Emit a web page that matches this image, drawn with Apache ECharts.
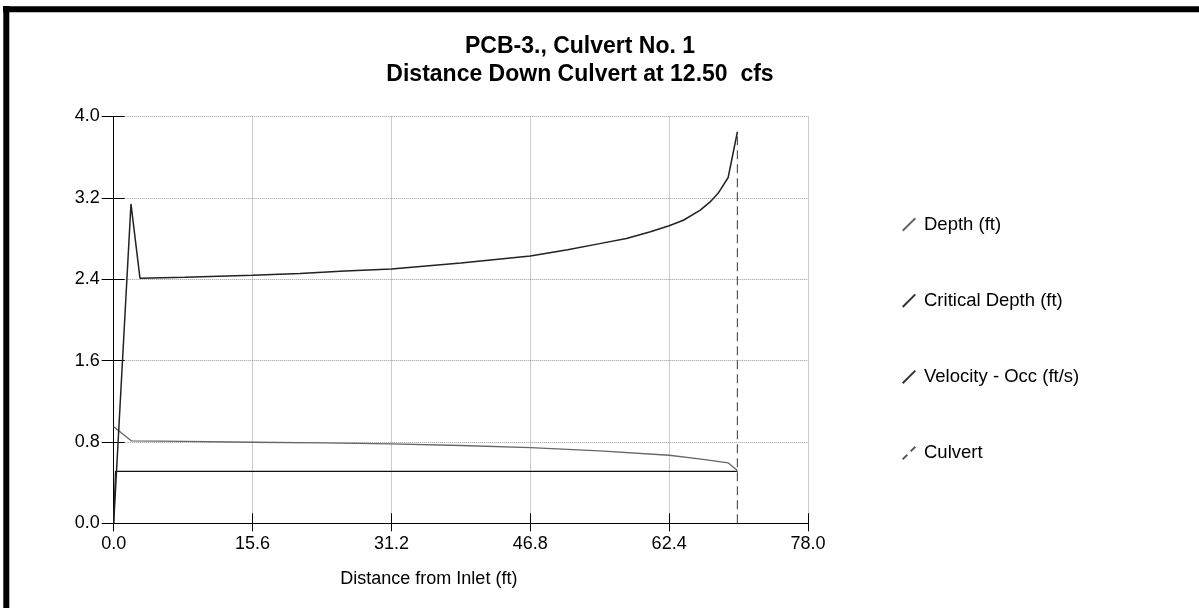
<!DOCTYPE html>
<html>
<head>
<meta charset="utf-8">
<title>PCB-3., Culvert No. 1</title>
<script src="https://cdn.jsdelivr.net/npm/echarts@6/dist/echarts.min.js"></script>
<style>
  html, body { margin: 0; padding: 0; background: #fff; }
  #chart { width: 1199px; height: 608px; }
</style>
</head>
<body>
<div id="chart"></div>
<script>
// axis ticks
const xTicks = [0, 15.6, 31.2, 46.8, 62.4, 78.0];
const yTicks = [0, 0.8, 1.6, 2.4, 3.2, 4.0];

// Depth (ft)
const depthX = [0, 2.0, 8, 15.6, 23.4, 31.2, 39, 46.8, 54.6, 62.4, 66, 69.05, 70.07];
const depthY = [0.95, 0.81, 0.805, 0.797, 0.79, 0.78, 0.765, 0.745, 0.712, 0.669, 0.63, 0.594, 0.52];

// Critical Depth (ft)
const criticalX = [0, 0.2, 70.07];
const criticalY = [0, 0.51, 0.51];

// Velocity - Occ (ft/s)
const velocityX = [0, 1.94, 2.95, 8, 15.6, 20.9, 26, 31.2, 39, 46.8, 51, 54.6, 57.6, 60.3, 62.4, 64.0, 65.9, 67.0, 67.9, 69.03, 70.07];
const velocityY = [0, 3.14, 2.41, 2.42, 2.44, 2.457, 2.48, 2.50, 2.56, 2.628, 2.69, 2.75, 2.80, 2.867, 2.926, 2.98, 3.08, 3.16, 3.245, 3.40, 3.85];

// Culvert
const culvertX = [70.07, 70.07];
const culvertY = [0, 3.85];

const pair = (xs, ys) => xs.map((x, i) => [x, ys[i]]);

const chart = echarts.init(document.getElementById('chart'));
const font = 'Liberation Sans, Arial, sans-serif';
const slash = 'path://M0,10 L9,1 L10,2 L1,11 Z';
const dashSlash = 'path://M0,10 L3.5,6.5 L4.5,7.5 L1,11 Z M6,4 L9.5,0.5 L10.5,1.5 L7,5 Z';

const option = {
  animation: false,
  textStyle: { fontFamily: font },
  graphic: [
    { type: 'line', shape: { x1: 3, y1: 9.3, x2: 1199, y2: 9.3 }, style: { stroke: '#000', lineWidth: 6 } },
    { type: 'line', shape: { x1: 6.3, y1: 6, x2: 6.3, y2: 608 }, style: { stroke: '#000', lineWidth: 6 } },
    { type: 'text', x: 580, y: 47, style: { text: 'PCB-3., Culvert No. 1', fontFamily: font, fontSize: 23, fontWeight: 'bold', fill: '#000', align: 'center', verticalAlign: 'middle' } },
    { type: 'text', x: 580, y: 74.5, style: { text: 'Distance Down Culvert at 12.50  cfs', fontFamily: font, fontSize: 23, fontWeight: 'bold', fill: '#000', align: 'center', verticalAlign: 'middle' } }
  ],
  legend: {
    orient: 'vertical',
    left: 897,
    top: 209.5,
    itemGap: 56.2,
    itemWidth: 14,
    itemHeight: 14,
    lineStyle: { opacity: 0 },
    textStyle: { fontFamily: font, fontSize: 18.5, lineHeight: 20, color: '#000', padding: [0, 0, 0, 3] },
    data: [
      { name: 'Depth (ft)', icon: slash },
      { name: 'Critical Depth (ft)', icon: slash },
      { name: 'Velocity - Occ (ft/s)', icon: slash },
      { name: 'Culvert', icon: dashSlash }
    ]
  },
  grid: { left: 113.7, right: 391, top: 116.5, bottom: 84.7 },
  xAxis: [{
    type: 'value',
    min: xTicks[0],
    max: xTicks[xTicks.length - 1],
    interval: xTicks[1] - xTicks[0],
    name: 'Distance from Inlet (ft)',
    nameLocation: 'middle',
    nameGap: 47,
    nameTextStyle: { fontFamily: font, fontSize: 18, color: '#000', padding: [0, 64, 0, 0] },
    axisLine: { onZero: false, lineStyle: { color: '#000', width: 1 } },
    axisTick: { length: 8, lineStyle: { color: '#000' } },
    axisLabel: { margin: 12, fontSize: 18, color: '#000', formatter: v => v.toFixed(1) },
    splitLine: { show: true, lineStyle: { color: '#9a9a9a', type: 'dotted', width: 1 } }
  }, {
    type: 'value',
    position: 'bottom',
    min: xTicks[0],
    max: xTicks[xTicks.length - 1],
    interval: xTicks[1] - xTicks[0],
    axisLine: { show: false },
    axisTick: { inside: true, length: 10, lineStyle: { color: '#000' } },
    axisLabel: { show: false },
    splitLine: { show: false }
  }],
  yAxis: [{
    type: 'value',
    min: yTicks[0],
    max: yTicks[yTicks.length - 1],
    interval: yTicks[1] - yTicks[0],
    axisLine: { show: true, onZero: false, lineStyle: { color: '#000', width: 1 } },
    axisTick: { show: true, length: 12, lineStyle: { color: '#000' } },
    axisLabel: { margin: 14, fontSize: 18, color: '#000', formatter: v => v.toFixed(1) },
    splitLine: { show: true, lineStyle: { color: '#9a9a9a', type: 'dotted', width: 1 } }
  }, {
    type: 'value',
    position: 'left',
    min: yTicks[0],
    max: yTicks[yTicks.length - 1],
    interval: yTicks[1] - yTicks[0],
    axisLine: { show: false },
    axisTick: { show: true, inside: true, length: 11, lineStyle: { color: '#000' } },
    axisLabel: { show: false },
    splitLine: { show: false }
  }],
  series: [
    {
      name: 'Depth (ft)', type: 'line', symbol: 'none',
      data: pair(depthX, depthY),
      itemStyle: { color: '#666' },
      lineStyle: { color: '#666', width: 1.3 }
    },
    {
      name: 'Critical Depth (ft)', type: 'line', symbol: 'none',
      data: pair(criticalX, criticalY),
      itemStyle: { color: '#333' },
      lineStyle: { color: '#111', width: 1.2 }
    },
    {
      name: 'Velocity - Occ (ft/s)', type: 'line', symbol: 'none',
      data: pair(velocityX, velocityY),
      itemStyle: { color: '#333' },
      lineStyle: { color: '#222', width: 1.5 }
    },
    {
      name: 'Culvert', type: 'line', symbol: 'none',
      data: pair(culvertX, culvertY),
      itemStyle: { color: '#555' },
      lineStyle: { color: '#555', width: 1.2, type: [9, 5] }
    }
  ]
};

chart.setOption(option);
</script>
</body>
</html>
